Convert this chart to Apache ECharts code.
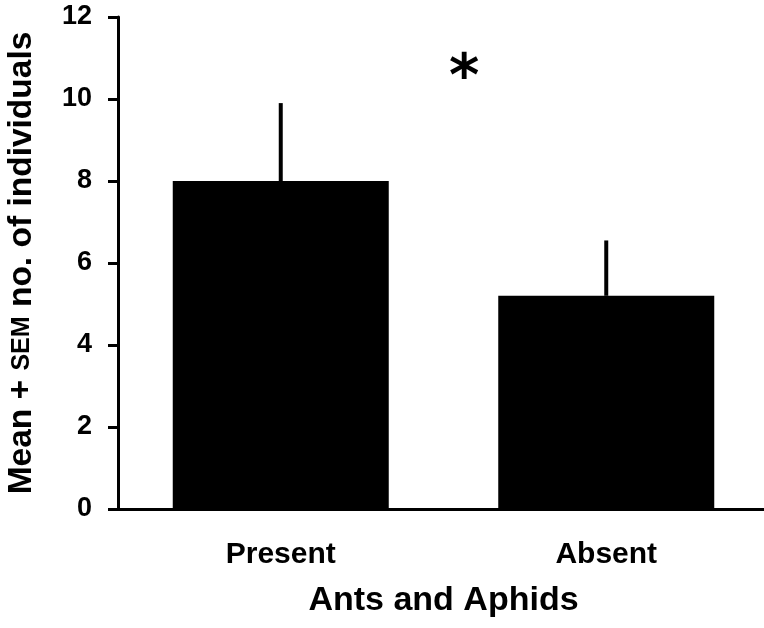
<!DOCTYPE html>
<html>
<head>
<meta charset="utf-8">
<script src="https://cdn.jsdelivr.net/npm/echarts@6/dist/echarts.min.js"></script>
<style>html,body{margin:0;padding:0;background:#fff}#c{width:764px;height:628px}</style>
</head>
<body>
<div id="c"></div>
<script>
const categories = ['Present', 'Absent'];
const means = [8.0, 5.2];
const sems = [1.9, 1.35];
const yTicks = [0, 2, 4, 6, 8, 10, 12];
const FONT = '"Liberation Sans", Arial, sans-serif';

const chart = echarts.init(document.getElementById('c'));
chart.setOption({
  animation: false,
  grid: { left: 118, width: 651, top: 17, bottom: 119, containLabel: false, outerBoundsMode: 'none' },
  xAxis: {
    type: 'category',
    data: categories,
    name: 'Ants and Aphids',
    nameLocation: 'middle',
    nameGap: 75,
    nameTextStyle: { fontFamily: FONT, fontWeight: 'bold', fontSize: 34, color: '#000' },
    axisLine: { lineStyle: { color: '#000', width: 3 } },
    axisTick: { show: false },
    axisLabel: { fontFamily: FONT, fontWeight: 'bold', fontSize: 30, color: '#000', margin: 31 }
  },
  yAxis: {
    type: 'value',
    min: yTicks[0],
    max: yTicks[yTicks.length - 1],
    interval: 2,
    name: '{a|Mean + }{b|SEM}{a| no. of individuals}',
    nameLocation: 'middle',
    nameRotate: 90,
    nameGap: 79,
    nameTextStyle: {
      rich: {
        a: { fontFamily: FONT, fontWeight: 'bold', fontSize: 33.5, color: '#000' },
        b: { fontFamily: FONT, fontWeight: 'bold', fontSize: 25, color: '#000' }
      }
    },
    splitLine: { show: false },
    axisLine: { show: true, lineStyle: { color: '#000', width: 3 } },
    axisTick: { show: true, length: 10, lineStyle: { color: '#000', width: 3 } },
    axisLabel: { fontFamily: FONT, fontWeight: 'bold', fontSize: 27, color: '#000', margin: 26 }
  },
  series: [
    {
      type: 'bar',
      data: means,
      barWidth: 216,
      itemStyle: { color: '#000' },
      z: 2
    },
    {
      type: 'custom',
      data: means.map((m, i) => [i, m, m + sems[i]]),
      renderItem: function (params, api) {
        const p0 = api.coord([api.value(0), api.value(1)]);
        const p1 = api.coord([api.value(0), api.value(2)]);
        return {
          type: 'line',
          shape: { x1: p0[0], y1: p0[1], x2: p1[0], y2: p1[1] },
          style: { stroke: '#000', lineWidth: 4 }
        };
      },
      z: 3
    }
  ],
  graphic: [
    {
      type: 'text',
      left: 449,
      top: 51,
      style: { text: '*', fontFamily: '"DejaVu Sans", sans-serif', fontWeight: 'bold', fontSize: 58, fill: '#000' }
    }
  ]
});
</script>
</body>
</html>
